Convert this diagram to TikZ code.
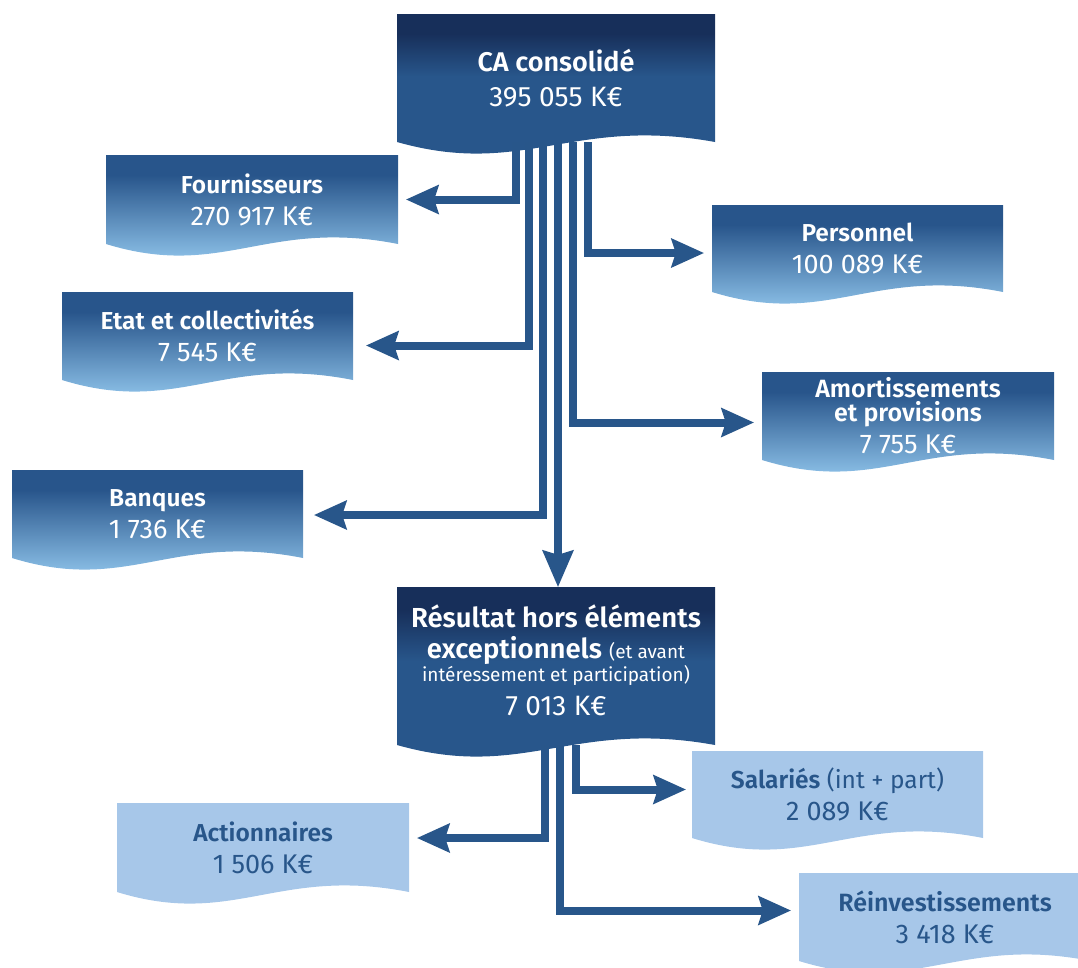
\documentclass[tikz,border=0pt]{standalone}
\usepackage{fontspec}
\setmainfont{Fira Sans}[BoldFont={Fira Sans SemiBold}]
\usetikzlibrary{arrows.meta}

\definecolor{flowblue}{HTML}{28568A}
\definecolor{mainhigh}{HTML}{172F5A}
\definecolor{mainlow}{HTML}{28568B}
\definecolor{sidehigh}{HTML}{28558B}
\definecolor{sidelow}{HTML}{86BAE2}
\definecolor{paleblue}{HTML}{A7C7E9}

\pgfdeclareverticalshading{mainshade}{100bp}{color(0bp)=(mainlow); color(56bp)=(mainlow); color(69bp)=(mainhigh); color(100bp)=(mainhigh)}
\pgfdeclareverticalshading{sideshade}{100bp}{color(0bp)=(sidelow); color(35bp)=(sidelow); color(67bp)=(sidehigh); color(100bp)=(sidehigh)}

\newcommand{\amount}{\fontsize{27}{32}\selectfont}

\tikzset{
  mainshape/.style={shading=mainshade},
  sideshape/.style={shading=sideshade},
  paleshape/.style={fill=paleblue},
  maintext/.style={text=white, font=\fontsize{27}{32}\selectfont},
  sidetext/.style={text=white, font=\fontsize{24.5}{32}\selectfont},
  paletext/.style={text=flowblue, font=\fontsize{24.5}{32}\selectfont},
  flow/.style={draw=flowblue, line width=8pt, shorten >=8pt,
    -{Stealth[length=33pt, width=30pt, inset=5pt, line width=0pt]}}
}

% name, left, top, width, height, kind, text
\newcommand{\docbox}[7]{%
  \path[#6shape] (#2,#3+#5) -- (#2,#3) -- (#2+#4,#3) -- (#2+#4,#3+#5)
    .. controls +(-0.45*#4,-26) and +(0.4*#4,36) .. (#2,#3+#5) -- cycle;
  \node[#6text, align=center, inner sep=0pt, minimum width=#4pt, minimum height=#5pt]
    (#1) at (#2+#4/2,#3+#5/2) {#7};
}

\begin{document}
\begin{tikzpicture}[x=1pt, y=-1pt]
        \useasboundingbox (0,0) rectangle (1078,967);
        \docbox{ca}{397}{14}{318}{128}{main}{\textbf{CA consolidé}\\[3pt]{\fontsize{28}{32}\selectfont 395 055 K€}}
        \docbox{fourn}{106}{155}{292}{89}{side}{\textbf{Fournisseurs}\\{\amount 270 917 K€}}
        \docbox{pers}{712}{205}{291}{87}{side}{\textbf{Personnel}\\{\amount 100 089 K€}}
        \docbox{etat}{62}{292}{291}{88}{side}{\textbf{Etat et collectivités}\\{\amount 7 545 K€}}
        \docbox{amort}{762}{372}{292}{88}{side}{{\fontsize{25}{32}\selectfont\textbf{Amortissements}}\\[-8pt]
          {\fontsize{25}{32}\selectfont\textbf{et provisions}}\\{\amount 7 755 K€}}
        \docbox{banq}{12}{470}{291}{88}{side}{\textbf{Banques}\\{\amount 1 736 K€}}
        \docbox{res}{397}{587}{318}{158}{main}{{\fontsize{27.5}{32}\selectfont\textbf{Résultat hors éléments}}\\[-1pt]
          {\fontsize{27.5}{32}\selectfont\textbf{exceptionnels}} {\fontsize{19}{25}\selectfont(et avant}\\[-9pt]
          {\fontsize{19}{25}\selectfont intéressement et participation)}\\[2pt]{\fontsize{28}{32}\selectfont 7 013 K€}\\[-20pt]\mbox{}}
        \docbox{sal}{692}{751}{291}{87}{pale}{\textbf{Salariés} (int + part)\\{\amount 2 089 K€}}
        \docbox{act}{117}{803}{292}{89}{pale}{\textbf{Actionnaires}\\{\amount 1 506 K€}}
        \docbox{reinv}{799}{873}{292}{88}{pale}{{\fontsize{25}{32}\selectfont\textbf{Réinvestissements}}\\{\amount 3 418 K€}}

        % flows out of the turnover
        \draw[flow] ([xshift=-40pt]ca.south) |- (fourn.east);
        \draw[flow, shorten >=13pt] ([xshift=-27pt]ca.south) |- ([yshift=-9.5pt]etat.east);
        \draw[flow, shorten >=11pt] ([xshift=-13pt]ca.south) |- ([yshift=-1pt]banq.east);
        \draw[flow] ([xshift=32pt]ca.south) |- ([yshift=-4.5pt]pers.west);
        \draw[flow] ([xshift=17pt]ca.south) |- ([yshift=-6.5pt]amort.west);
        \draw[flow, shorten >=0pt, -{Stealth[length=37pt, width=32pt, inset=5pt, line width=0pt]}]
          ([xshift=2pt]ca.south) -- ([xshift=2pt]res.north);
        % flows out of the result
        \draw[flow] ([xshift=-11pt]res.south) |- ([yshift=9.5pt]act.east);
        \draw[flow] ([xshift=4pt]res.south) |- ([yshift=6.5pt]reinv.west);
        \draw[flow, shorten >=6pt] ([xshift=20pt]res.south) |- ([yshift=5pt]sal.west);
\end{tikzpicture}
\end{document}
